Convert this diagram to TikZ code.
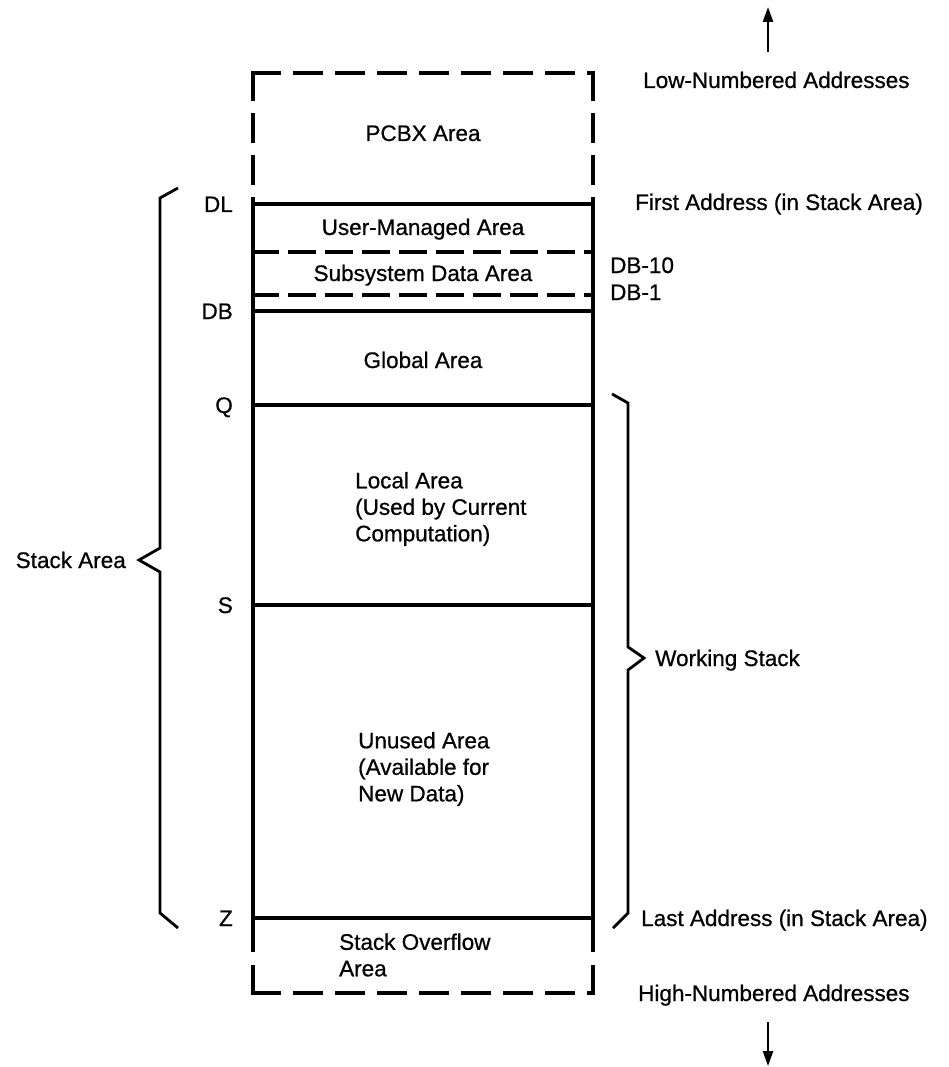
\documentclass[tikz,border=0pt]{standalone}
\usepackage{fontspec}
\setmainfont[FakeBold=0.7]{Liberation Sans}
\usetikzlibrary{arrows.meta}
\begin{document}
\begin{tikzpicture}[x=1pt,y=-1pt,
  lbl/.style={font=\fontsize{22.5}{26.5}\selectfont, inner sep=0pt, text height=16pt, text depth=0pt},
  blk/.style={font=\fontsize{22.5}{26.5}\selectfont, inner sep=0pt, align=left},
  heavy/.style={line width=4.2pt},
  dashedheavy/.style={line width=4.2pt, line cap=rect, dash pattern=on 26pt off 16pt},
  thindash/.style={line width=3.8pt, line cap=rect, dash pattern=on 24pt off 13pt},
  bracestyle/.style={line width=2.8pt, line join=miter},
  arrowline/.style={line width=2.6pt, -{Triangle[length=15pt,width=10pt]}}]
\useasboundingbox (0,0) rectangle (949,1067);
% box corners
\coordinate (tl) at (253,73);
\coordinate (tr) at (593,73);
\coordinate (dll) at (253,204);
\coordinate (dlr) at (593,204);
\coordinate (sideendl) at (253,952);
\coordinate (sideendr) at (593,952);
\coordinate (bl) at (253,993);
\coordinate (br) at (593,993);
\coordinate (bll) at (253,962);
\coordinate (brr) at (593,962);
% top dashed part
\draw[dashedheavy] (tl) -- (dll);
\draw[dashedheavy] (tl) -- (tr);
\draw[dashedheavy] (tr) -- (dlr);
% solid sides
\draw[heavy] (dll) -- (sideendl);
\draw[heavy] (dlr) -- (sideendr);
% bottom dashed part
\draw[dashedheavy] (bl) -- (bll);
\draw[dashedheavy] (bl) -- (br);
\draw[dashedheavy] (br) -- (brr);
% horizontal boundaries
\draw[heavy] (dll) -- (dlr);
\coordinate (d10l) at (253,252); \coordinate (d10r) at (593,252);
\coordinate (d1l) at (253,295); \coordinate (d1r) at (593,295);
\draw[thindash] (d10l) -- (d10r);
\draw[thindash] (d1l) -- (d1r);
\coordinate (dbl) at (253,311); \coordinate (dbr) at (593,311);
\coordinate (ql) at (253,405); \coordinate (qr) at (593,405);
\coordinate (sl) at (253,605); \coordinate (sr) at (593,605);
\coordinate (zl) at (253,918); \coordinate (zr) at (593,918);
\draw[heavy] (dbl) -- (dbr);
\draw[heavy] (ql) -- (qr);
\draw[heavy] (sl) -- (sr);
\draw[heavy] (zl) -- (zr);
% braces
\draw[bracestyle] (178,188) -- (160,198) -- (160,548) -- (139,560) -- (160,572) -- (160,913) -- (178,928);
\draw[bracestyle] (612,394) -- (628,403) -- (628,647) -- (644,658) -- (628,670) -- (628,913) -- (613,928);
% arrows
\coordinate (upbase) at (768,52);
\coordinate (uptip) at (768,7);
\draw[arrowline] (upbase) -- (uptip);
\coordinate (downbase) at (768,1022);
\coordinate (downtip) at (768,1066);
\draw[arrowline] (downbase) -- (downtip);
% labels
\node[lbl, anchor=west] (low) at (643,80) {Low-Numbered Addresses};
\node[lbl] (pcbx) at (423,133) {PCBX Area};
\node[lbl, anchor=west] (first) at (635,202) {First Address (in Stack Area)};
\node[lbl, anchor=east] (dl) at (233,204) {DL};
\node[lbl] (user) at (423,227) {User-Managed Area};
\node[lbl] (subsys) at (423,273) {Subsystem Data Area};
\node[lbl, anchor=west] (db10) at (610,265) {DB-10};
\node[lbl, anchor=west] (db1) at (610,292) {DB-1};
\node[lbl, anchor=east] (db) at (233,311) {DB};
\node[lbl] (global) at (423,360) {Global Area};
\node[lbl, anchor=east] (q) at (233,405) {Q};
\node[blk, anchor=west] (local) at (355,509) {Local Area\\(Used by Current\\Computation)};
\node[lbl, anchor=east] (s) at (233,605) {S};
\node[lbl, anchor=east] (stackarea) at (126,560) {Stack Area};
\node[lbl, anchor=west] (working) at (655,658) {Working Stack};
\node[blk, anchor=west] (unused) at (358,769) {Unused Area\\(Available for\\New Data)};
\node[lbl, anchor=east] (z) at (233,918) {Z};
\node[lbl, anchor=west] (last) at (641,918) {Last Address (in Stack Area)};
\node[blk, anchor=west] (overflow) at (339,955) {Stack Overflow\\Area};
\node[lbl, anchor=west] (high) at (638,993) {High-Numbered Addresses};
\end{tikzpicture}
\end{document}
